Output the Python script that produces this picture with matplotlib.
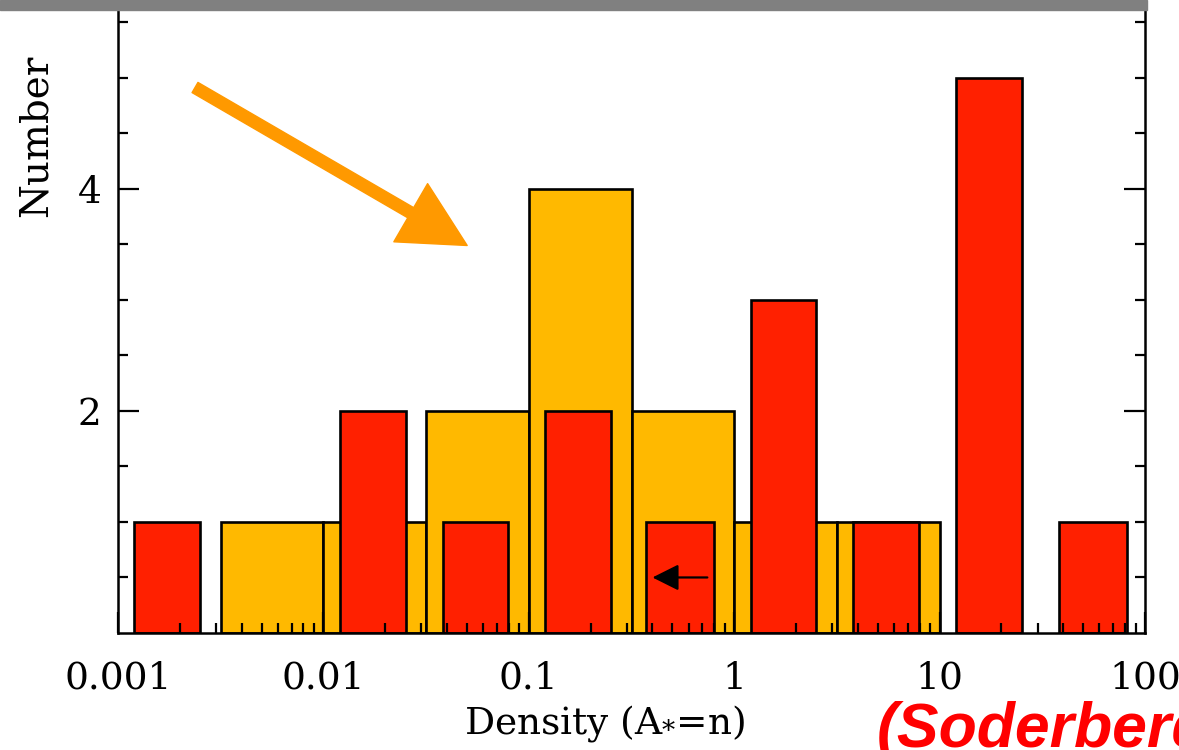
import numpy as np
import matplotlib
matplotlib.use('Agg')
from matplotlib import pyplot as plt
from matplotlib.patches import Rectangle
from matplotlib.ticker import FixedLocator, NullFormatter

# Orange histogram: half-decade bins (log10 edges) and counts
orange_log_edges = [-2.5, -2.0, -1.5, -1.0, -0.5, 0.0, 0.5, 1.0]
orange_counts = [1, 1, 2, 4, 2, 1, 1]

# Red histogram: narrower bars, log10 left/right edges and counts
red_log_lo = [-2.92, -1.92, -1.42, -0.92, -0.43, 0.08, 0.58, 1.08, 1.58]
red_log_hi = [-2.60, -1.60, -1.10, -0.60, -0.10, 0.40, 0.90, 1.40, 1.91]
red_counts = [1, 2, 1, 2, 1, 3, 1, 5, 1]

# Upper-limit arrow inside the red bar near 0.5
limit_from = 0.74
limit_to = 0.40
limit_y = 0.5

x_ticks = [0.001, 0.01, 0.1, 1, 10, 100]
x_labels = ['0.001', '0.01', '0.1', '1', '10', '100']
y_ticks = [2, 4]

plt.rcParams['font.family'] = ['DejaVu Serif']
plt.rcParams['mathtext.fontset'] = 'dejavuserif'

fig = plt.figure(figsize=(11.79, 7.5), dpi=100)
ax = fig.add_axes([118 / 1179, 117 / 750, 1027 / 1179, 622 / 750])

# orange bars
edges = np.power(10.0, orange_log_edges)
ax.bar(edges[:-1], orange_counts, width=np.diff(edges), align='edge',
       color='#FFB900', edgecolor='black', linewidth=1.9, zorder=1)

# red bars
lo = np.power(10.0, red_log_lo)
hi = np.power(10.0, red_log_hi)
ax.bar(lo, red_counts, width=hi - lo, align='edge',
       color='#FF2000', edgecolor='black', linewidth=1.9, zorder=1.5)

ax.annotate('', xy=(limit_to, limit_y), xytext=(limit_from, limit_y),
            arrowprops=dict(arrowstyle='-|>,head_length=0.9,head_width=0.45',
                            mutation_scale=18, color='black', lw=1.6,
                            shrinkA=0, shrinkB=0), zorder=3)

ax.set_xscale('log')
ax.set_xlim(0.001, 100)
ax.set_ylim(0, 5.6)

ax.set_xticks(x_ticks)
ax.set_xticklabels(x_labels)
ax.set_yticks(y_ticks)
ax.yaxis.set_minor_locator(FixedLocator([0.5, 1, 1.5, 2.5, 3, 3.5, 4.5, 5, 5.5]))
ax.yaxis.set_minor_formatter(NullFormatter())
ax.xaxis.set_minor_formatter(NullFormatter())

ax.tick_params(which='both', direction='in', right=True, top=False, width=1.6)
ax.tick_params(which='major', length=15, labelsize=27)
ax.tick_params(axis='x', which='major', pad=20)
ax.tick_params(axis='y', which='major', pad=12)
ax.tick_params(which='minor', length=7.5)

for side in ['left', 'right', 'bottom']:
    ax.spines[side].set_linewidth(1.8)
ax.spines['top'].set_visible(False)

ax.set_ylabel('Number', fontsize=28)
ax.yaxis.set_label_coords(-0.062, 0.80)
ax.set_xlabel('Density (A$_{*}$=n)', fontsize=27)
ax.xaxis.set_label_coords(0.474, -0.112)

# big orange pointer arrow
ax.annotate('', xy=(0.340, 0.623), xytext=(0.075, 0.877),
            xycoords='axes fraction', textcoords='axes fraction',
            arrowprops=dict(arrowstyle='simple,head_length=1.0,head_width=1.03,tail_width=0.18',
                            mutation_scale=47, color='#FF9900',
                            shrinkA=0, shrinkB=0))

# gray band at top
fig.add_artist(Rectangle((0, 740 / 750), 1147 / 1179, 10 / 750,
                         transform=fig.transFigure, color='#808080', zorder=10))

fig.text(877 / 1179, 3 / 750, '(Soderberg', color='#FF0000', fontsize=45,
         fontweight='bold', fontstyle='italic', family='Liberation Sans',
         ha='left', va='baseline')

fig.savefig('out.png', dpi=100)
